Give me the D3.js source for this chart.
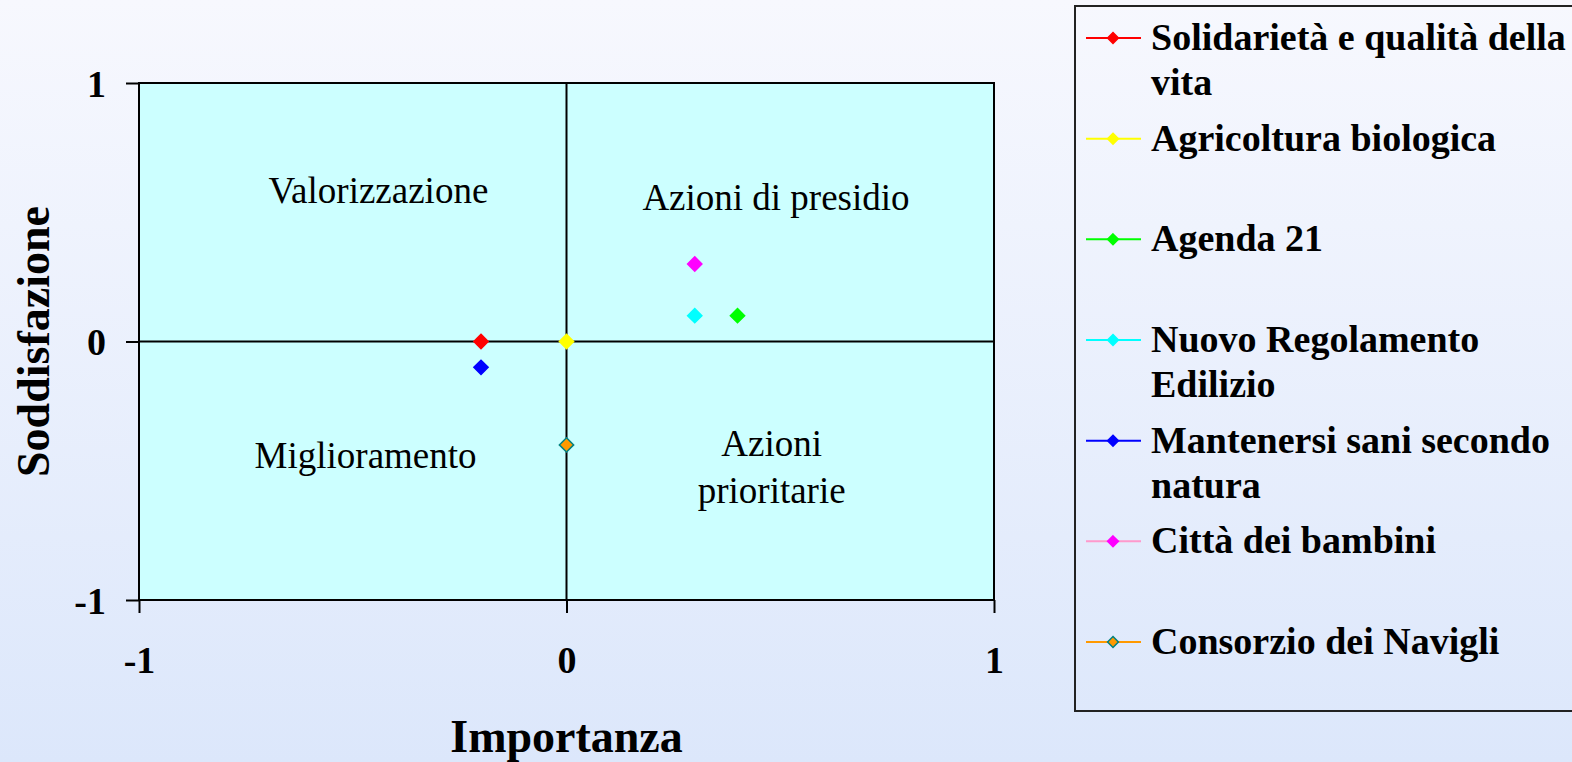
<!DOCTYPE html>
<html>
<head>
<meta charset="utf-8">
<script src="https://cdn.jsdelivr.net/npm/d3@7"></script>
<style>
body { margin: 0; padding: 0; overflow: hidden; }
svg { display: block; }
.tick-label { font-family: "Liberation Serif", "Times New Roman", serif; font-weight: bold; font-size: 38px; fill: #000; }
.axis-title { font-family: "Liberation Serif", "Times New Roman", serif; font-weight: bold; font-size: 46px; fill: #000; }
.quad-label { font-family: "Liberation Serif", "Times New Roman", serif; font-size: 37px; fill: #000; }
.legend-text { font-family: "Liberation Serif", "Times New Roman", serif; font-weight: bold; font-size: 38px; fill: #000; }
</style>
</head>
<body>
<div class="chart"></div>
<script>
var width = 1572,
height = 762,
plotLeft = 139,
plotRight = 994,
plotTop = 83,
plotBottom = 600;

// data
var seriesNames = ["Solidarietà e qualità della vita", "Agricoltura biologica", "Agenda 21",
	"Nuovo Regolamento Edilizio", "Mantenersi sani secondo natura", "Città dei bambini", "Consorzio dei Navigli"];
var importanza = [-0.2, 0, 0.4, 0.3, -0.2, 0.3, 0];
var soddisfazione = [0, 0, 0.1, 0.1, -0.1, 0.3, -0.4];
var markerColors = ["#ff0000", "#ffff00", "#00ff00", "#00ffff", "#0000ff", "#ff00ff", "#ff9900"];
var markerStrokes = ["#ff0000", "#ffff00", "#00ff00", "#00ffff", "#0000ff", "#ff00ff", "#008080"];
var lineColors = ["#ff0000", "#ffff00", "#00ff00", "#00ffff", "#0000ff", "#ff99cc", "#ff9900"];
var xTicks = [-1, 0, 1];
var yTicks = [-1, 0, 1];
var quadrants = [
	{ lines: ["Valorizzazione"], x: -0.44, y: 0.536 },
	{ lines: ["Azioni di presidio"], x: 0.49, y: 0.509 },
	{ lines: ["Miglioramento"], x: -0.47, y: -0.489 },
	{ lines: ["Azioni", "prioritarie"], x: 0.48, y: -0.443 }
];

var canvas = d3.select('div.chart')
	.append('svg')
	.attr('width', width)
	.attr('height', height);

// background gradient
var defs = canvas.append('defs');
var grad = defs.append('linearGradient')
	.attr('id', 'bg')
	.attr('x1', 0).attr('y1', 0).attr('x2', 0).attr('y2', 1);
grad.append('stop').attr('offset', '0%').attr('stop-color', '#f7f8fe');
grad.append('stop').attr('offset', '100%').attr('stop-color', '#dce7fb');

canvas.append('rect')
	.attr('width', width)
	.attr('height', height)
	.attr('fill', 'url(#bg)');

var xScale = d3.scaleLinear()
	.domain([-1, 1])
	.range([plotLeft, plotRight]);

var yScale = d3.scaleLinear()
	.domain([-1, 1])
	.range([plotBottom, plotTop]);

// plot area
canvas.append('rect')
	.attr('x', xScale(-1))
	.attr('y', yScale(1))
	.attr('width', xScale(1) - xScale(-1))
	.attr('height', yScale(-1) - yScale(1))
	.attr('fill', '#ccffff')
	.attr('stroke', '#000')
	.attr('stroke-width', 2);

// quadrant lines
canvas.append('line')
	.attr('x1', xScale(0)).attr('x2', xScale(0))
	.attr('y1', yScale(1)).attr('y2', yScale(-1))
	.attr('stroke', '#000').attr('stroke-width', 2);
canvas.append('line')
	.attr('x1', xScale(-1)).attr('x2', xScale(1))
	.attr('y1', yScale(0)).attr('y2', yScale(0))
	.attr('stroke', '#000').attr('stroke-width', 2);

/*
========== axes ==========
*/
var xAxis = canvas.append("g")
	.attr("transform", "translate(0," + plotBottom + ")")
	.call(d3.axisBottom(xScale).tickValues(xTicks).tickSize(13).tickFormat(d3.format("d")));

var yAxis = canvas.append("g")
	.attr("transform", "translate(" + plotLeft + ",0)")
	.call(d3.axisLeft(yScale).tickValues(yTicks).tickSize(13).tickFormat(d3.format("d")));

canvas.selectAll(".domain").remove();
canvas.selectAll(".tick line").attr("stroke", "#000").attr("stroke-width", 2);
canvas.selectAll(".tick text")
	.attr("class", "tick-label")
	.attr("font-family", null)
	.attr("font-size", null)
	.text(function(d){ return d < 0 ? "-" + Math.abs(d) : d; });

xAxis.selectAll(".tick text")
	.attr("y", 60)
	.attr("dy", null)
	.attr("dominant-baseline", "central");

yAxis.selectAll(".tick text")
	.attr("x", -33)
	.attr("dy", null)
	.attr("dominant-baseline", "central");

canvas.append("text")
	.attr("class", "axis-title")
	.attr("text-anchor", "middle")
	.attr("transform", "translate(" + xScale(0) + ",752)")
	.text("Importanza");

canvas.append("text")
	.attr("class", "axis-title")
	.attr("text-anchor", "middle")
	.attr("transform", "translate(49," + yScale(0) + ") rotate(-90)")
	.text("Soddisfazione");

// quadrant labels
quadrants.forEach(function(q){
	var t = canvas.append("text")
		.attr("class", "quad-label")
		.attr("text-anchor", "middle")
		.attr("x", xScale(q.x))
		.attr("y", yScale(q.y));
	q.lines.forEach(function(l, i){
		t.append("tspan")
			.attr("x", xScale(q.x))
			.attr("dy", i == 0 ? 0 : 47)
			.text(l);
	});
});

/*
========== points ==========
*/
var diamond = d3.symbol().type(d3.symbolDiamond2).size(130);

canvas.append('g')
	.selectAll('path')
	.data(seriesNames)
	.enter()
	.append('path')
	.attr('d', diamond)
	.attr('transform', function(d, i){ return "translate(" + xScale(importanza[i]) + "," + yScale(soddisfazione[i]) + ")"; })
	.attr('fill', function(d, i){ return markerColors[i]; })
	.attr('stroke', function(d, i){ return markerStrokes[i]; })
	.attr('stroke-width', 1.5);

/*
========== legend ==========
*/
canvas.append('rect')
	.attr('x', 1075)
	.attr('y', 6)
	.attr('width', 520)
	.attr('height', 705)
	.attr('fill', 'none')
	.attr('stroke', '#222')
	.attr('stroke-width', 2);

var legendY = d3.scaleLinear()
	.domain([0, seriesNames.length - 1])
	.range([38, 642]);

var legendMarker = d3.symbol().type(d3.symbolDiamond2).size(75);

var legend = canvas.append('g')
	.selectAll('g')
	.data(seriesNames)
	.enter()
	.append('g')
	.attr('transform', function(d, i){ return "translate(0," + legendY(i) + ")"; });

legend.append('line')
	.attr('x1', 1086).attr('x2', 1141)
	.attr('y1', 0).attr('y2', 0)
	.attr('stroke', function(d, i){ return lineColors[i]; })
	.attr('stroke-width', 2);

legend.append('path')
	.attr('d', legendMarker)
	.attr('transform', "translate(1113,0)")
	.attr('fill', function(d, i){ return markerColors[i]; })
	.attr('stroke', function(d, i){ return markerStrokes[i]; })
	.attr('stroke-width', 1.5);

legend.each(function(name){
	var t = d3.select(this).append('text')
		.attr('class', 'legend-text')
		.attr('x', 1151)
		.attr('y', 0)
		.attr('dy', 12);
	var words = name.split(" "), line = [], lineNo = 0;
	var tspan = t.append('tspan').attr('x', 1151);
	for (var k = 0; k < words.length; k++){
		line.push(words[k]);
		tspan.text(line.join(" "));
		if (tspan.node().getComputedTextLength() > 420 && line.length > 1){
			line.pop();
			tspan.text(line.join(" "));
			line = [words[k]];
			lineNo += 1;
			tspan = t.append('tspan').attr('x', 1151).attr('dy', 45).text(words[k]);
		}
	}
});
</script>
</body>
</html>
